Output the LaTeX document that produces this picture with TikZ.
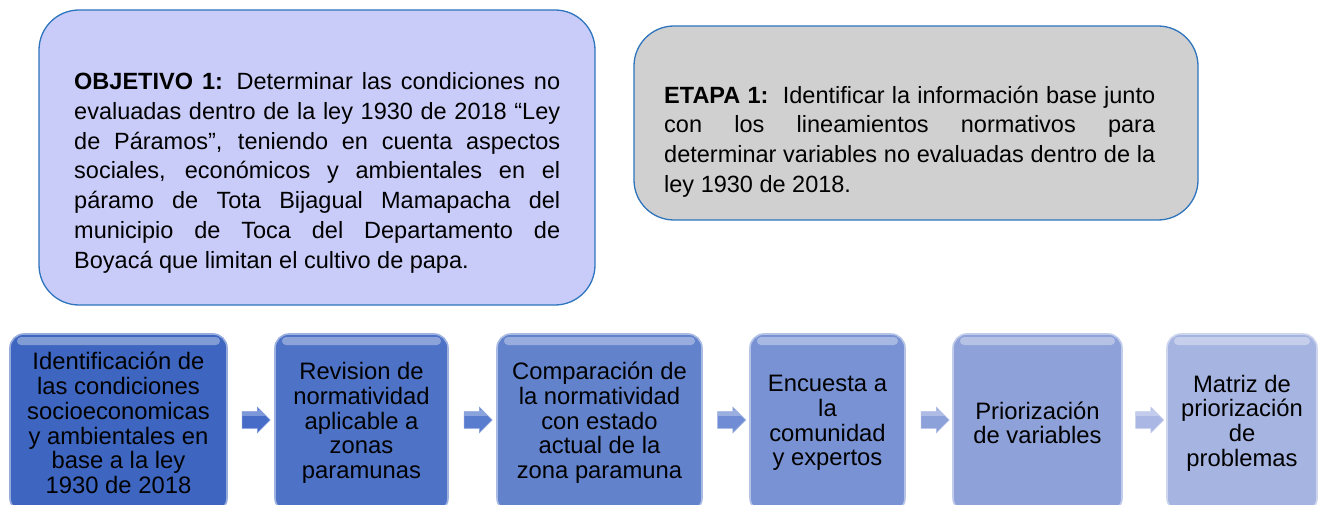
\documentclass[tikz,border=0pt]{standalone}
\usepackage{fontspec}
\setmainfont{Liberation Sans}
\usetikzlibrary{shapes.arrows,calc}
\definecolor{objfill}{RGB}{201,204,248}
\definecolor{etafill}{RGB}{208,208,208}
\definecolor{edgeblue}{RGB}{46,117,190}
\definecolor{bA}{RGB}{62,102,192}
\definecolor{bB}{RGB}{78,115,198}
\definecolor{bC}{RGB}{98,130,204}
\definecolor{bD}{RGB}{120,146,211}
\definecolor{bE}{RGB}{142,162,217}
\definecolor{bF}{RGB}{166,180,225}
\definecolor{aA}{RGB}{70,108,200}
\definecolor{aB}{RGB}{90,124,206}
\definecolor{aC}{RGB}{112,140,212}
\definecolor{aD}{RGB}{140,160,218}
\definecolor{aE}{RGB}{170,182,228}
\tikzset{
  topbox/.style={draw=edgeblue, line width=1.3pt, rounded corners=40pt, inner sep=0pt},
  bodytext/.style={inner sep=0pt, text width=#1, align=justify,
    font={\fontsize{23.5}{29.7}\selectfont\parindent=0pt\tolerance=10000\hbadness=10000\hyphenpenalty=10000}},
  stepbox/.style={fill=#1, draw=#1!55!white, line width=1.6pt, rounded corners=14pt,
    minimum height=178pt, inner sep=2pt, align=center,
    font={\fontsize{23.8}{24.7}\selectfont},
    path picture={
      \fill[white,opacity=0.35,rounded corners=4pt]
        ([xshift=7pt,yshift=-3pt]path picture bounding box.north west) rectangle
        ([xshift=-7pt,yshift=-11pt]path picture bounding box.north east);
    }},
  flowarrow/.style={single arrow, fill=#1, draw=#1!70!white, line width=0.6pt,
    minimum height=28pt, single arrow head extend=4.5pt,
    inner sep=0pt, text width=0pt, text height=8pt, text depth=8pt,
    path picture={
      \fill[white,opacity=0.3]
        ([yshift=-3pt]path picture bounding box.north west) rectangle
        ([yshift=-9pt]path picture bounding box.north east);
    }}
}
\begin{document}
\begin{tikzpicture}[x=1pt,y=-1pt]
\useasboundingbox[fill=white] (0,0) rectangle (1322,505);

% top boxes
\node[topbox, fill=objfill, minimum width=556pt, minimum height=295pt] (obj) at (317,157.5) {};
\node[bodytext=486pt, anchor=north west] (objtxt) at (74,72.6)
 {\textbf{OBJETIVO 1:} Determinar las condiciones no\linebreak
  evaluadas dentro de la ley 1930 de 2018 “Ley\linebreak
  de Páramos”, teniendo en cuenta aspectos\linebreak
  sociales, económicos y ambientales en el\linebreak
  páramo de Tota Bijagual Mamapacha del\linebreak
  municipio de Toca del Departamento de\linebreak
  Boyacá que limitan el cultivo de papa.};

\node[topbox, fill=etafill, minimum width=564pt, minimum height=194pt] (eta) at (916,123) {};
\node[bodytext=491pt, anchor=north west] (etatxt) at (664,85.6)
 {\textbf{ETAPA 1:}\ \ Identificar la información base junto\linebreak
  con los lineamientos normativos para\linebreak
  determinar variables no evaluadas dentro de la\linebreak
  ley 1930 de 2018.};

% process steps
\node[stepbox=bA, minimum width=217pt] (s1) at (118.5,423)
 {Identificación de\\las condiciones\\socioeconomicas\\y ambientales en\\base a la ley\\1930 de 2018};
\node[stepbox=bB, minimum width=173pt] (s2) at (361.5,423)
 {Revision de\\normatividad\\aplicable a\\zonas\\paramunas};
\node[stepbox=bC, minimum width=205pt] (s3) at (599.5,423)
 {Comparación de\\la normatividad\\con estado\\actual de la\\zona paramuna};
\node[stepbox=bD, minimum width=155pt] (s4) at (827.5,423)
 {Encuesta a\\la\\comunidad\\y expertos};
\node[stepbox=bE, minimum width=169pt] (s5) at (1037.5,423)
 {Priorización\\de variables};
\node[stepbox=bF, minimum width=150pt] (s6) at (1242,423)
 {Matriz de\\priorización\\de\\problemas};

% arrows between steps
\node[flowarrow=aA] (a1) at (252,420) {};
\node[flowarrow=aB] (a2) at (474,420) {};
\node[flowarrow=aC] (a3) at (727.5,420) {};
\node[flowarrow=aD] (a4) at (931,420) {};
\node[flowarrow=aE] (a5) at (1145.5,420) {};
\end{tikzpicture}
\end{document}
